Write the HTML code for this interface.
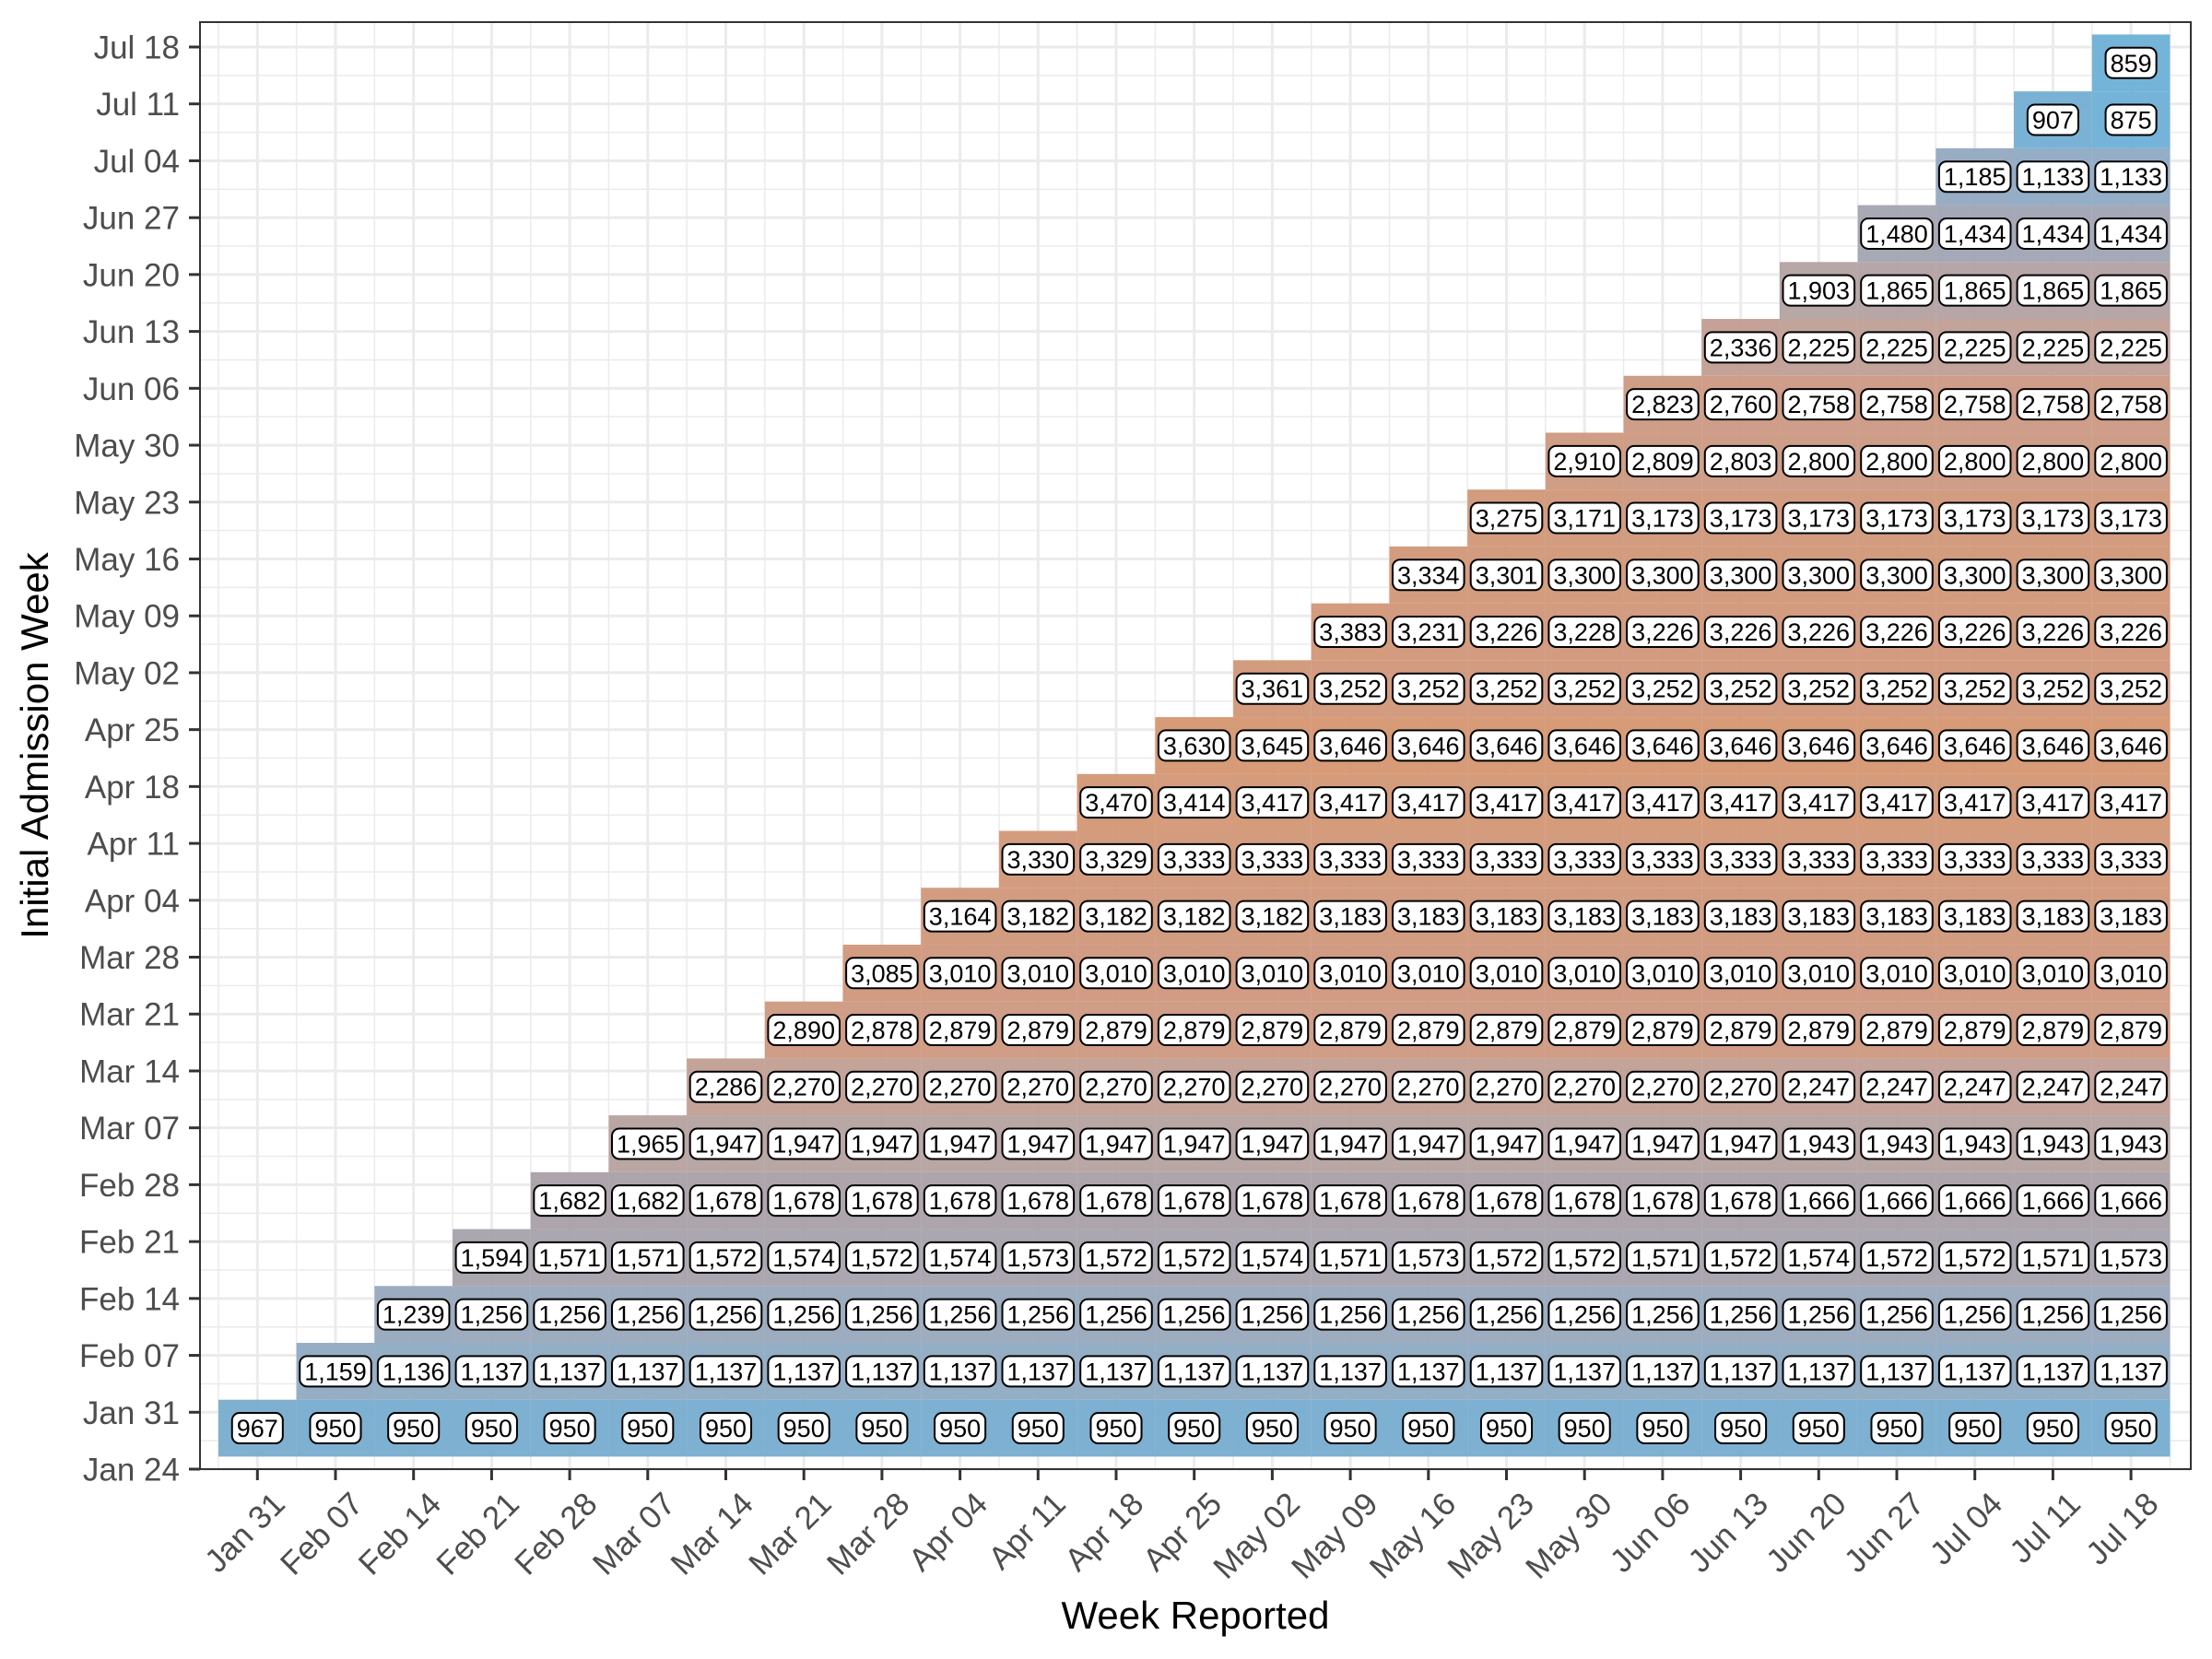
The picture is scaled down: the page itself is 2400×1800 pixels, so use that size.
<!DOCTYPE html>
<html><head><meta charset="utf-8"><style>
html,body{margin:0;padding:0;background:#fff;}
svg{display:block;font-family:"Liberation Sans",sans-serif;}
</style></head><body>
<svg id="chart" width="2400" height="1800" viewBox="0 0 2400 1800">
<rect x="0" y="0" width="2400" height="1800" fill="#fff"/>
<g id="grid"></g>
<g id="tiles"></g>
<g id="labels"></g>
<rect x="217" y="24" width="2160" height="1570" fill="none" stroke="#333" stroke-width="2"/>
<g id="axes"></g>
<text x="1297" y="1767" font-size="42" text-anchor="middle" fill="#000">Week Reported</text>
<text transform="translate(52,809) rotate(-90)" font-size="42" text-anchor="middle" fill="#000">Initial Admission Week</text>
</svg>
<script>
const weekLabels = ["Jan 31","Feb 07","Feb 14","Feb 21","Feb 28","Mar 07","Mar 14","Mar 21","Mar 28","Apr 04","Apr 11","Apr 18","Apr 25","May 02","May 09","May 16","May 23","May 30","Jun 06","Jun 13","Jun 20","Jun 27","Jul 04","Jul 11","Jul 18"];
const yTickLabels = ["Jan 24"].concat(weekLabels);
function rep(v,n){return Array(n).fill(v);}
const row0 = [967].concat(rep(950,24));
const row1 = [1159,1136].concat(rep(1137,22));
const row2 = [1239].concat(rep(1256,22));
const row3 = [1594,1571,1571,1572,1574,1572,1574,1573,1572,1572,1574,1571,1573,1572,1572,1571,1572,1574,1572,1572,1571,1573];
const row4 = [1682,1682].concat(rep(1678,14),rep(1666,5));
const row5 = [1965].concat(rep(1947,14),rep(1943,5));
const row6 = [2286].concat(rep(2270,13),rep(2247,5));
const row7 = [2890,2878].concat(rep(2879,16));
const row8 = [3085].concat(rep(3010,16));
const row9 = [3164,3182,3182,3182,3182].concat(rep(3183,11));
const row10 = [3330,3329].concat(rep(3333,13));
const row11 = [3470,3414].concat(rep(3417,12));
const row12 = [3630,3645].concat(rep(3646,11));
const row13 = [3361].concat(rep(3252,11));
const row14 = [3383,3231,3226,3228].concat(rep(3226,7));
const row15 = [3334,3301].concat(rep(3300,8));
const row16 = [3275,3171].concat(rep(3173,7));
const row17 = [2910,2809,2803].concat(rep(2800,5));
const row18 = [2823,2760].concat(rep(2758,5));
const row19 = [2336].concat(rep(2225,5));
const row20 = [1903].concat(rep(1865,4));
const row21 = [1480].concat(rep(1434,3));
const row22 = [1185,1133,1133];
const row23 = [907,875];
const row24 = [859];
const rows = [row0,row1,row2,row3,row4,row5,row6,row7,row8,row9,row10,row11,row12,row13,row14,row15,row16,row17,row18,row19,row20,row21,row22,row23,row24];

const NS="http://www.w3.org/2000/svg";
const X0=279.3, XS=84.7, Y0=1594, YS=61.72;
function xScale(i){return X0+i*XS;}
function yScale(w){return Y0-w*YS;}
const stops=[[850,[104,174,215]],[950,[116,170,205]],[1137,[140,168,194]],[1256,[150,166,186]],[1573,[164,160,170]],[1678,[168,158,166]],[1947,[180,160,158]],[2270,[192,156,145]],[2879,[204,150,125]],[3646,[212,147,110]]];
function color(v){
  if(v<=stops[0][0]) return "rgb("+stops[0][1].join(",")+")";
  for(let i=1;i<stops.length;i++){
    if(v<=stops[i][0]){const a=stops[i-1],b=stops[i];const t=(v-a[0])/(b[0]-a[0]);
      return "rgb("+a[1].map((c,k)=>Math.round(c+(b[1][k]-c)*t)).join(",")+")";}
  }
  return "rgb("+stops[stops.length-1][1].join(",")+")";
}
function mk(tag,attrs,parent){const e=document.createElementNS(NS,tag);for(const k in attrs)e.setAttribute(k,attrs[k]);parent.appendChild(e);return e;}
const grid=document.getElementById('grid'),tiles=document.getElementById('tiles'),labels=document.getElementById('labels'),axes=document.getElementById('axes');
// grid
for(let i=-0.5;i<=25;i+=0.5){
  const x=xScale(i); if(x<217||x>2377) continue;
  const g=mk('line',{x1:x,x2:x,y1:24,y2:1594,stroke:'#ebebeb','stroke-width':(i%1===0)?3:1.5},grid);
  
  
}
for(let w=0;w<=25.5;w+=0.5){
  const y=yScale(w); if(y<24) continue;
  const g=mk('line',{x1:217,x2:2377,y1:y,y2:y,stroke:'#ebebeb','stroke-width':(w%1===0)?3:1.5},grid);
  
  
}
// tiles
rows.forEach((vals,r)=>{
  const cy=yScale(r+0.72);
  vals.forEach((v,k)=>{
    const c=r+k; const cx=xScale(c);
    const t=mk('rect',{x:cx-XS/2,y:cy-YS/2,width:XS,height:YS,fill:color(v),'fill-opacity':0.93},tiles);
    
    
  });
});
rows.forEach((vals,r)=>{
  const cy=yScale(r+0.72);
  vals.forEach((v,k)=>{
    const c=r+k; const cx=xScale(c);
    const g=mk('g',{},labels);
    
    
    const box=mk('rect',{y:cy-16.5,height:33,rx:8,fill:'#fff',stroke:'#000','stroke-width':2},g);
    const tx=mk('text',{x:cx,y:cy+9.5,'font-size':27,'text-anchor':'middle',fill:'#000'},g);
    tx.textContent=v.toLocaleString('en-US');
    const w=tx.getComputedTextLength()+10;
    box.setAttribute('x',cx-w/2);box.setAttribute('width',w);
  });
});
// axes ticks
weekLabels.forEach((lab,i)=>{
  const x=xScale(i);
  const t=mk('line',{x1:x,x2:x,y1:1594,y2:1606,stroke:'#333','stroke-width':3},axes);
  
  
  const tx=mk('text',{transform:'translate('+(x+14)+',1616) rotate(-45)','font-size':35,'text-anchor':'end',fill:'#4d4d4d',dy:'0.72em'},axes);
  tx.textContent=lab;
  
  
});
yTickLabels.forEach((lab,i)=>{
  const y=yScale(i);
  const t=mk('line',{x1:205,x2:217,y1:y,y2:y,stroke:'#333','stroke-width':3},axes);
  
  
  const tx=mk('text',{x:195,y:y+12.5,'font-size':35,'text-anchor':'end',fill:'#4d4d4d'},axes);
  tx.textContent=lab;
  
  
});
</script>
</body></html>
